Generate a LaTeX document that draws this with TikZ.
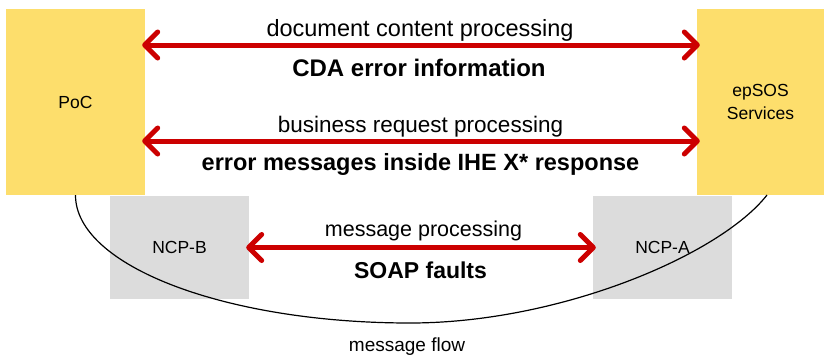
\documentclass[tikz,border=0pt]{standalone}
\usepackage{fontspec}
\setmainfont{Liberation Sans}
\usetikzlibrary{arrows.meta}
\definecolor{boxyellow}{HTML}{FDDE6C}
\definecolor{boxgrey}{HTML}{DCDCDC}
\definecolor{arrred}{HTML}{CC0000}
\begin{document}
\begin{tikzpicture}[x=1pt,y=-1pt,
  ybox/.style={fill=boxyellow, draw=none, inner sep=0pt, align=center, font=\fontsize{17.5}{23}\selectfont},
  gbox/.style={fill=boxgrey, draw=none, inner sep=0pt, minimum width=139pt, minimum height=103pt, font=\fontsize{17.5}{21}\selectfont},
  redarr/.style={draw=arrred, line width=5pt, shorten <=-3pt, shorten >=-3pt,
    {Straight Barb[length=13pt,width=26pt,round]}-{Straight Barb[length=13pt,width=26pt,round]}},
  lbl/.style={anchor=base, inner sep=0pt},
  flowline/.style={draw=black, line width=1.2pt}]
\useasboundingbox (0,0) rectangle (824,359);
% boxes
\node[ybox, minimum width=139pt, minimum height=186pt] (poc) at (75.5,102) {PoC};
\node[ybox, minimum width=127pt, minimum height=186pt] (eps) at (760.5,102) {epSOS\\Services};
\node[gbox] (ncpb) at (179.5,247.5) {NCP-B};
\node[gbox] (ncpa) at (662.5,247.5) {NCP-A};
% message flow curve
\coordinate (bot) at (410,323);
\coordinate (epsend) at (767,195);
\draw[flowline] (poc.south) .. controls (75.5,265.7) and (225,323) .. (bot)
  .. controls (560,323) and (720,255) .. (epsend);
% arrows
\draw[redarr] ([yshift=57pt]poc.east) -- ([yshift=57pt]eps.west);
\draw[redarr] ([yshift=-39pt]poc.east) -- ([yshift=-39pt]eps.west);
\draw[redarr] (ncpb.east) -- (ncpa.west);
% labels
\node[lbl, font=\fontsize{23.5}{28}\selectfont] (l1) at (420,36) {document content processing};
\node[lbl, font=\fontsize{24}{28}\selectfont\bfseries] (l2) at (419,76.7) {CDA error information};
\node[lbl, font=\fontsize{22.5}{28}\selectfont] (l3) at (420.5,132.3) {business request processing};
\node[lbl, font=\fontsize{23.5}{28}\selectfont\bfseries] (l4) at (420.5,170) {error messages inside IHE X* response};
\node[lbl, font=\fontsize{21.5}{26}\selectfont] (l5) at (423.5,236.7) {message processing};
\node[lbl, font=\fontsize{23}{28}\selectfont\bfseries] (l6) at (420.5,278.3) {SOAP faults};
\node[lbl, font=\fontsize{19}{24}\selectfont] (l7) at (407,351) {message flow};
\end{tikzpicture}
\end{document}
